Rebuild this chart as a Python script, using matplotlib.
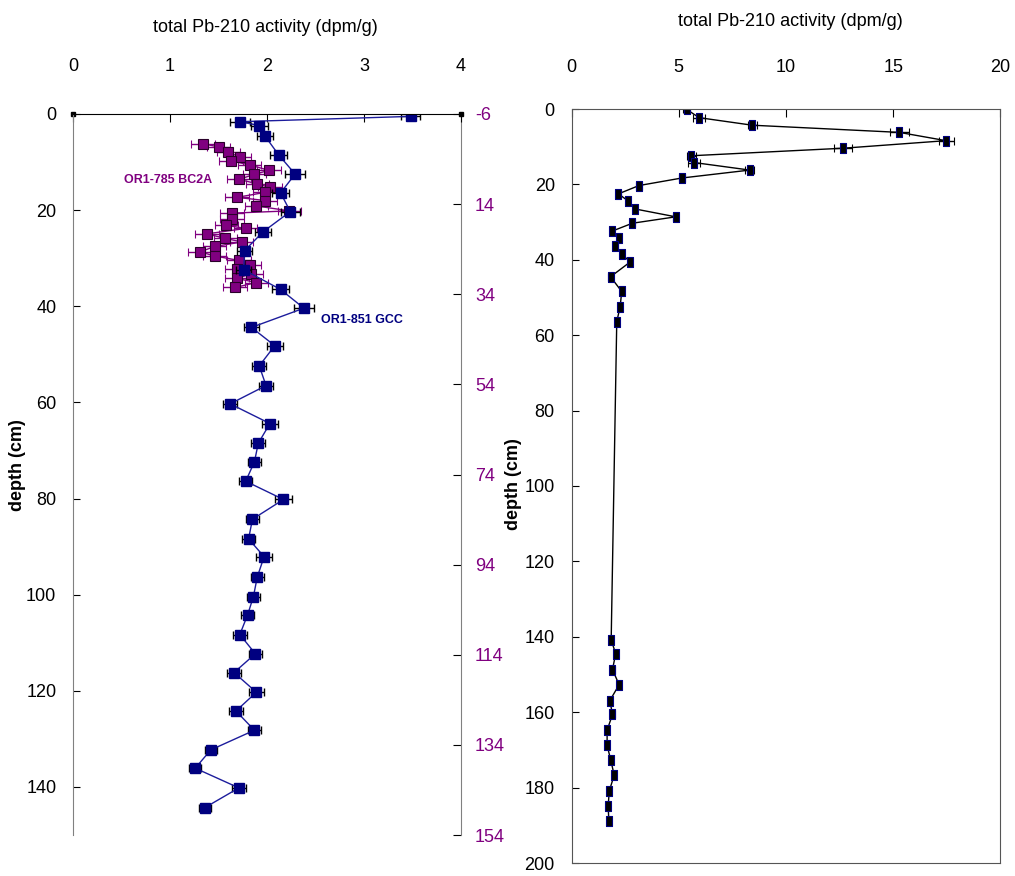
import matplotlib
matplotlib.use("Agg")
import matplotlib.pyplot as plt
import numpy as np

plt.rcParams['font.family'] = ['Liberation Sans Narrow', 'Liberation Sans', 'DejaVu Sans']
plt.rcParams['axes.unicode_minus'] = False

# ---------------- data ----------------
# Left panel: OR1-851 GCC (primary depth axis)
gcc_depth = [0.5, 1.6, 2.4, 4.6, 8.5, 12.5, 16.4, 20.3, 24.5, 28.4, 32.4, 36.5, 40.4,
             44.4, 48.2, 52.4, 56.5, 60.3, 64.4, 68.5, 72.4, 76.4, 80.2, 84.3, 88.4,
             92.1, 96.3, 100.4, 104.2, 108.3, 112.3, 116.2, 120.3, 124.2, 128.2,
             132.3, 136.1, 140.2, 144.3]
gcc_pb = [3.48, 1.72, 1.92, 1.98, 2.12, 2.29, 2.14, 2.24, 1.96, 1.77, 1.76, 2.14, 2.38,
          1.84, 2.08, 1.92, 1.99, 1.62, 2.03, 1.91, 1.87, 1.78, 2.17, 1.85, 1.81,
          1.97, 1.90, 1.86, 1.80, 1.72, 1.88, 1.66, 1.89, 1.68, 1.87, 1.42, 1.26,
          1.71, 1.36]
gcc_err = [0.10, 0.10, 0.09, 0.08, 0.09, 0.10, 0.09, 0.10, 0.08, 0.08, 0.08, 0.09, 0.10,
           0.08, 0.08, 0.07, 0.07, 0.07, 0.08, 0.07, 0.07, 0.07, 0.09, 0.07, 0.07,
           0.08, 0.07, 0.07, 0.07, 0.07, 0.07, 0.07, 0.08, 0.07, 0.07, 0.06, 0.06,
           0.07, 0.06]

# Left panel: OR1-785 BC2A (secondary depth axis)
bc_depth = [0.6, 1.3, 2.4, 3.6, 4.4, 5.3, 6.5, 7.4, 8.5, 9.5, 10.3, 11.4, 12.5, 13.2,
            14.4, 15.5, 16.0, 17.4, 18.7, 19.4, 20.6, 21.6, 22.4, 23.4, 24.6, 25.5,
            26.5, 27.5, 28.5, 29.4, 30.5, 31.4, 32.5]
bc_pb = [1.34, 1.50, 1.60, 1.72, 1.63, 1.82, 2.02, 1.87, 1.71, 1.90, 2.03, 1.98, 1.69,
         1.98, 1.89, 2.23, 1.64, 1.64, 1.58, 1.78, 1.38, 1.57, 1.74, 1.46, 1.31, 1.46,
         1.71, 1.82, 1.69, 1.84, 1.69, 1.89, 1.67]
bc_err = [0.12] * 33

# Right panel
r_depth = [0.1, 2.3, 4.3, 6.2, 8.4, 10.4, 12.4, 14.2, 16.2, 18.3, 20.3, 22.5, 24.4,
           26.5, 28.6, 30.3, 32.4, 34.3, 36.3, 38.5, 40.6, 44.5, 48.4, 52.4, 56.4,
           140.8, 144.5, 148.7, 152.7, 156.9, 160.6, 164.8, 168.8, 172.7, 176.7,
           180.9, 184.9, 188.8]
r_pb = [5.37, 5.95, 8.43, 15.28, 17.46, 12.67, 5.59, 5.71, 8.31, 5.15, 3.15, 2.19, 2.64,
        2.95, 4.86, 2.84, 1.89, 2.20, 2.05, 2.36, 2.73, 1.82, 2.34, 2.27, 2.11,
        1.85, 2.06, 1.91, 2.22, 1.79, 1.91, 1.66, 1.66, 1.83, 1.99, 1.76, 1.71, 1.74]
r_err = [0.15, 0.29, 0.20, 0.45, 0.35, 0.42, 0.20, 0.30, 0.20, 0.15, 0.12, 0.10, 0.10,
         0.10, 0.12, 0.10, 0.10, 0.10, 0.10, 0.10, 0.10, 0.10, 0.10, 0.10, 0.10,
         0.10, 0.10, 0.10, 0.10, 0.10, 0.10, 0.10, 0.10, 0.10, 0.10, 0.10, 0.10, 0.10]

left_xticks = [0, 1, 2, 3, 4]
left_yticks = [0, 20, 40, 60, 80, 100, 120, 140]
sec_yticks = [-6, 14, 34, 54, 74, 94, 114, 134, 154]
right_xticks = [0, 5, 10, 15, 20]
right_yticks = [0, 20, 40, 60, 80, 100, 120, 140, 160, 180, 200]

NAVY = '#000080'
PURPLE = '#800080'
GRAY = '#808080'

W, H = 1015, 876
fig = plt.figure(figsize=(W / 100, H / 100), dpi=100)

# ---------------- left panel ----------------
axS = fig.add_axes([73 / W, 41 / H, 388 / W, 721 / H])  # secondary (drawn below)
axL = fig.add_axes([73 / W, 41 / H, 388 / W, 721 / H])  # primary
axL.set_zorder(2)
axS.set_zorder(1)
axL.patch.set_visible(False)

for ax in (axL, axS):
    ax.set_xlim(0, 4)

axL.set_ylim(150, 0)
axS.set_ylim(154, -6)

# secondary: ticks on the right
axS.xaxis.set_visible(False)
axS.yaxis.tick_right()
axS.set_yticks(sec_yticks)
axS.tick_params(axis='y', direction='in', length=6, pad=10, labelsize=13,
                labelcolor=PURPLE, color='black')
for s in ('left', 'top', 'bottom'):
    axS.spines[s].set_visible(False)
axS.spines['right'].set_color(GRAY)
axS.spines['right'].set_bounds(-6, 154)

axS.errorbar(bc_pb, bc_depth, xerr=bc_err, color=PURPLE, lw=1, marker='s', ms=7,
             mfc=PURPLE, mec='#2a002a', mew=0.8, ecolor=PURPLE, elinewidth=1,
             capsize=3, capthick=1)

# primary
axL.xaxis.tick_top()
axL.set_xticks(left_xticks)
axL.set_yticks(left_yticks)
axL.tick_params(axis='x', direction='in', length=6, pad=28, labelsize=13, color='black')
axL.tick_params(axis='y', direction='in', length=5, pad=12, labelsize=13, color='black')
axL.spines['bottom'].set_visible(False)
axL.spines['right'].set_visible(False)
axL.spines['top'].set_color('black')
axL.spines['left'].set_color(GRAY)
axL.errorbar(gcc_pb, gcc_depth, xerr=gcc_err, color='#1c1c9c', lw=1, marker='s', ms=7,
             mfc=NAVY, mec=NAVY, ecolor='black', elinewidth=1, capsize=3, capthick=1)
# small end markers on the top axis line
axL.plot([0, 1], [1, 1], 's', color='black', ms=3.5, transform=axL.transAxes, clip_on=False)

axL.text(0.98, 13.7, 'OR1-785 BC2A', color=PURPLE, fontsize=9, fontweight='bold',
         ha='center', va='center')
axL.text(2.98, 42.8, 'OR1-851 GCC', color=NAVY, fontsize=9, fontweight='bold',
         ha='center', va='center')

fig.text(265 / W, 1 - 28 / H, 'total Pb-210 activity (dpm/g)', fontsize=13,
         ha='center', va='center')
fig.text(18 / W, 1 - 465 / H, 'depth (cm)', fontsize=13, fontweight='bold',
         rotation=90, ha='center', va='center', family=['Liberation Sans', 'DejaVu Sans'])

# ---------------- right panel ----------------
axR = fig.add_axes([571.5 / W, 13 / H, 429 / W, 754 / H])
axR.set_xlim(0, 20)
axR.set_ylim(200, 0)
axR.xaxis.tick_top()
axR.set_xticks(right_xticks)
axR.set_yticks(right_yticks)
axR.tick_params(axis='x', direction='in', length=6, pad=24, labelsize=13, color='black')
axR.tick_params(axis='y', direction='in', length=5, pad=12, labelsize=13, color='black')
for s in axR.spines.values():
    s.set_color('#555555')

rect = [(-0.6, -1), (0.6, -1), (0.6, 1), (-0.6, 1), (-0.6, -1)]
axR.errorbar(r_pb, r_depth, xerr=r_err, color='black', lw=1, marker=rect, ms=7,
             mfc='black', mec=NAVY, mew=0.8, ecolor='black', elinewidth=1,
             capsize=3, capthick=1)

fig.text(790 / W, 1 - 21 / H, 'total Pb-210 activity (dpm/g)', fontsize=13,
         ha='center', va='center')
fig.text(513 / W, 1 - 484 / H, 'depth (cm)', fontsize=13, fontweight='bold',
         rotation=90, ha='center', va='center', family=['Liberation Sans', 'DejaVu Sans'])

fig.savefig('out.png', dpi=100)
